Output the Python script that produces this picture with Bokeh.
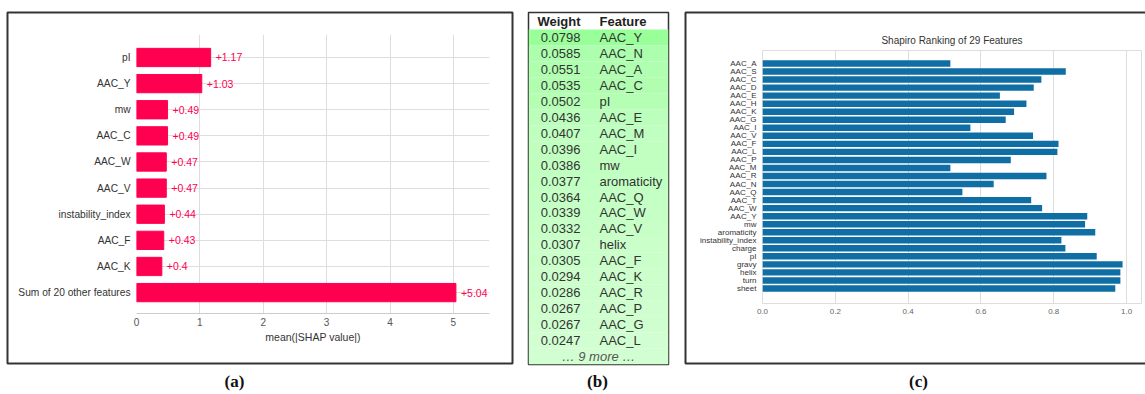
from bokeh.plotting import figure
from bokeh.models import Range1d, FixedTicker, ColumnDataSource, GridBox
from bokeh.embed import file_html
from bokeh.resources import INLINE
from bokeh.core.properties import value
import colorsys

# ---------------- data ----------------
# (a) SHAP mean(|SHAP value|)
shap_features = ["pI", "AAC_Y", "mw", "AAC_C", "AAC_W", "AAC_V",
                 "instability_index", "AAC_F", "AAC_K", "Sum of 20 other features"]
shap_values = [1.17, 1.03, 0.49, 0.49, 0.47, 0.47, 0.44, 0.43, 0.40, 5.04]
shap_labels = ["+1.17", "+1.03", "+0.49", "+0.49", "+0.47", "+0.47",
               "+0.44", "+0.43", "+0.4", "+5.04"]
shap_ticks = [0, 1, 2, 3, 4, 5]

# (b) permutation-importance table
perm_weights = [0.0798, 0.0585, 0.0551, 0.0535, 0.0502, 0.0436, 0.0407, 0.0396,
                0.0386, 0.0377, 0.0364, 0.0339, 0.0332, 0.0307, 0.0305, 0.0294,
                0.0286, 0.0267, 0.0267, 0.0247]
perm_features = ["AAC_Y", "AAC_N", "AAC_A", "AAC_C", "pI", "AAC_E", "AAC_M", "AAC_I",
                 "mw", "aromaticity", "AAC_Q", "AAC_W", "AAC_V", "helix", "AAC_F",
                 "AAC_K", "AAC_R", "AAC_P", "AAC_G", "AAC_L"]
perm_more = "\u2026 9 more \u2026"

# (c) Shapiro ranking
shapiro_features = ["AAC_A", "AAC_S", "AAC_C", "AAC_D", "AAC_E", "AAC_H", "AAC_K",
                    "AAC_G", "AAC_I", "AAC_V", "AAC_F", "AAC_L", "AAC_P", "AAC_M",
                    "AAC_R", "AAC_N", "AAC_Q", "AAC_T", "AAC_W", "AAC_Y", "mw",
                    "aromaticity", "instability_index", "charge", "pI", "gravy",
                    "helix", "turn", "sheet"]
shapiro_scores = [0.516, 0.833, 0.766, 0.745, 0.652, 0.725, 0.691, 0.668, 0.571,
                  0.743, 0.813, 0.810, 0.682, 0.516, 0.780, 0.635, 0.549, 0.738,
                  0.768, 0.892, 0.886, 0.914, 0.821, 0.832, 0.918, 0.989, 0.983,
                  0.983, 0.969]
shapiro_ticks = [0.0, 0.2, 0.4, 0.6, 0.8, 1.0]

captions = ["(a)", "(b)", "(c)"]

SANS = "Liberation Sans"
H = 394


def no_align(p):
    p.frame_align = False
    return p


# ---------------- background: panel frames and captions ----------------
bg = figure(width=1145, height=H, output_backend="svg", toolbar_location=None,
            x_axis_location=None, y_axis_location=None,
            x_range=Range1d(0, 1145), y_range=Range1d(H, 0))
bg.min_border = 0
bg.outline_line_color = None
bg.xgrid.visible = False
bg.ygrid.visible = False
bg.quad(left=[7, 685], right=[512, 1160], top=[12, 12], bottom=[363, 363],
        fill_alpha=0, line_color="#333333", line_width=2)
bg.text(x=[234, 597, 918], y=[381, 381, 381], text=captions,
        text_font=value("Liberation Serif"), text_font_style="bold",
        text_font_size="17px", text_align="center", text_baseline="middle",
        text_color="#111111")
no_align(bg)

# ---------------- panel (a) ----------------
n_a = len(shap_features)
ya = list(range(n_a - 1, -1, -1))
src_a = ColumnDataSource(dict(y=ya, v=shap_values, lab=shap_labels))
pa = figure(width=520, height=H, output_backend="svg", toolbar_location=None,
            x_range=Range1d(0, 5.57), y_range=Range1d(-0.8, n_a - 1 + 0.88))
pa.min_border_left = 136
pa.min_border_right = 31
pa.min_border_top = 34
pa.min_border_bottom = H - 313
pa.outline_line_color = None
pa.background_fill_color = None
pa.border_fill_color = None
pa.hbar(y="y", right="v", left=0, height=0.7, source=src_a,
        fill_color="#ff0051", line_color="#ff0051")
pa.text(x="v", y="y", text="lab", source=src_a, x_offset=5,
        text_font=value(SANS), text_font_size="10.5px", text_color="#ff0051",
        text_baseline="middle", text_align="left")
pa.xaxis.ticker = FixedTicker(ticks=shap_ticks)
pa.yaxis.ticker = FixedTicker(ticks=ya)
pa.yaxis.major_label_overrides = {y: f for y, f in zip(ya, shap_features)}
pa.xaxis.axis_label = "mean(|SHAP value|)"
for ax in (pa.xaxis, pa.yaxis):
    ax.major_tick_line_color = None
    ax.minor_tick_line_color = None
    ax.major_tick_out = 0
    ax.major_tick_in = 0
    ax.minor_tick_out = 0
    ax.major_label_text_font = SANS
pa.yaxis.axis_line_color = None
pa.xaxis.axis_line_color = "#cccccc"
pa.yaxis.major_label_text_font_size = "10.2px"
pa.yaxis.major_label_text_color = "#333333"
pa.yaxis.major_label_standoff = 6
pa.xaxis.major_label_text_font_size = "10px"
pa.xaxis.major_label_text_color = "#555555"
pa.xaxis.major_label_standoff = 4
pa.xaxis.axis_label_text_font = SANS
pa.xaxis.axis_label_text_font_style = "normal"
pa.xaxis.axis_label_text_font_size = "10.5px"
pa.xaxis.axis_label_text_color = "#333333"
pa.xaxis.axis_label_standoff = 2
pa.xgrid.grid_line_color = "#dddddd"
pa.ygrid.grid_line_color = "#dddddd"
no_align(pa)

# ---------------- panel (b) ----------------
n_b = len(perm_weights)
wmax = max(perm_weights)


def eli5_color(w):
    rel = (abs(w) / wmax) ** 0.7
    light = 1.0 - 0.2 * rel
    r, g, b = colorsys.hls_to_rgb(120 / 360.0, light, 1.0)
    return "#%02x%02x%02x" % (int(r * 255), int(g * 255), int(b * 255))


row_top = list(range(n_b + 1))
row_bot = [t + 1 for t in row_top]
row_col = [eli5_color(w) for w in perm_weights] + [eli5_color(perm_weights[-1])]
src_bg = ColumnDataSource(dict(top=row_top, bottom=row_bot, c=row_col))
src_b = ColumnDataSource(dict(y=[i + 0.5 for i in range(n_b)],
                              w=["%.4f" % w for w in perm_weights], f=perm_features))
head_h = 17 / 15.95
pb = figure(width=165, height=H, output_backend="svg", toolbar_location=None,
            x_axis_location=None, y_axis_location=None,
            x_range=Range1d(0, 140), y_range=Range1d(n_b + 1, -head_h))
pb.min_border_left = 8
pb.min_border_right = 17
pb.min_border_top = 12
pb.min_border_bottom = H - 364
pb.xgrid.visible = False
pb.ygrid.visible = False
pb.border_fill_color = None
pb.background_fill_color = "white"
pb.outline_line_color = "#333333"
pb.outline_line_width = 1.5
pb.quad(left=0, right=140, top="top", bottom="bottom", fill_color="c",
        line_color=None, source=src_bg)
pb.text(x=52, y=-head_h / 2, text=["Weight"], text_font=value(SANS),
        text_font_style="bold", text_font_size="13px", text_color="#222222",
        text_align="right", text_baseline="middle")
pb.text(x=71, y=-head_h / 2, text=["Feature"], text_font=value(SANS),
        text_font_style="bold", text_font_size="13px", text_color="#222222",
        text_align="left", text_baseline="middle")
pb.text(x=52, y="y", text="w", source=src_b, text_font=value(SANS),
        text_font_size="13px", text_color="#333333", text_align="right",
        text_baseline="middle")
pb.text(x=71, y="y", text="f", source=src_b, text_font=value(SANS),
        text_font_size="13px", text_color="#333333", text_align="left",
        text_baseline="middle")
pb.text(x=70, y=n_b + 0.5, text=[perm_more], text_font=value(SANS),
        text_font_style="italic", text_font_size="13px", text_color="#555555",
        text_align="center", text_baseline="middle")
no_align(pb)

# ---------------- panel (c) ----------------
n_c = len(shapiro_features)
yc = list(range(n_c))
src_c = ColumnDataSource(dict(y=yc, v=shapiro_scores))
pc = figure(width=460, height=H, output_backend="svg", toolbar_location=None,
            x_range=Range1d(0, 1.041), y_range=Range1d(n_c - 1 + 1.87, -1.62),
            title="Shapiro Ranking of 29 Features")
pc.min_border_left = 77
pc.min_border_right = 4
pc.min_border_top = 50
pc.min_border_bottom = H - 303
pc.background_fill_color = None
pc.border_fill_color = None
pc.title.align = "center"
pc.title.text_font = SANS
pc.title.text_font_style = "normal"
pc.title.text_font_size = "10px"
pc.title.text_color = "#333333"
pc.outline_line_color = "#dddddd"
pc.hbar(y="y", right="v", left=0, height=0.8, source=src_c,
        fill_color="#0f6ea3", line_color=None)
pc.xaxis.ticker = FixedTicker(ticks=shapiro_ticks)
pc.xaxis.major_label_overrides = {t: "%.1f" % t for t in shapiro_ticks}
pc.yaxis.ticker = FixedTicker(ticks=yc)
pc.yaxis.major_label_overrides = {y: f for y, f in zip(yc, shapiro_features)}
for ax in (pc.xaxis, pc.yaxis):
    ax.major_tick_line_color = None
    ax.minor_tick_line_color = None
    ax.major_tick_out = 0
    ax.major_tick_in = 0
    ax.minor_tick_out = 0
    ax.axis_line_color = None
    ax.major_label_text_font = SANS
pc.yaxis.major_label_text_font_size = "8px"
pc.yaxis.major_label_text_color = "#333333"
pc.yaxis.major_label_standoff = 6
pc.xaxis.major_label_text_font_size = "8px"
pc.xaxis.major_label_text_color = "#666666"
pc.xaxis.major_label_standoff = 5
pc.xgrid.grid_line_color = "#dddddd"
pc.ygrid.grid_line_color = None
no_align(pc)

layout = GridBox(children=[(bg, 0, 0, 1, 3), (pa, 0, 0), (pb, 0, 1), (pc, 0, 2)],
                 spacing=0)
open("out.html", "w").write(file_html(layout, INLINE))
